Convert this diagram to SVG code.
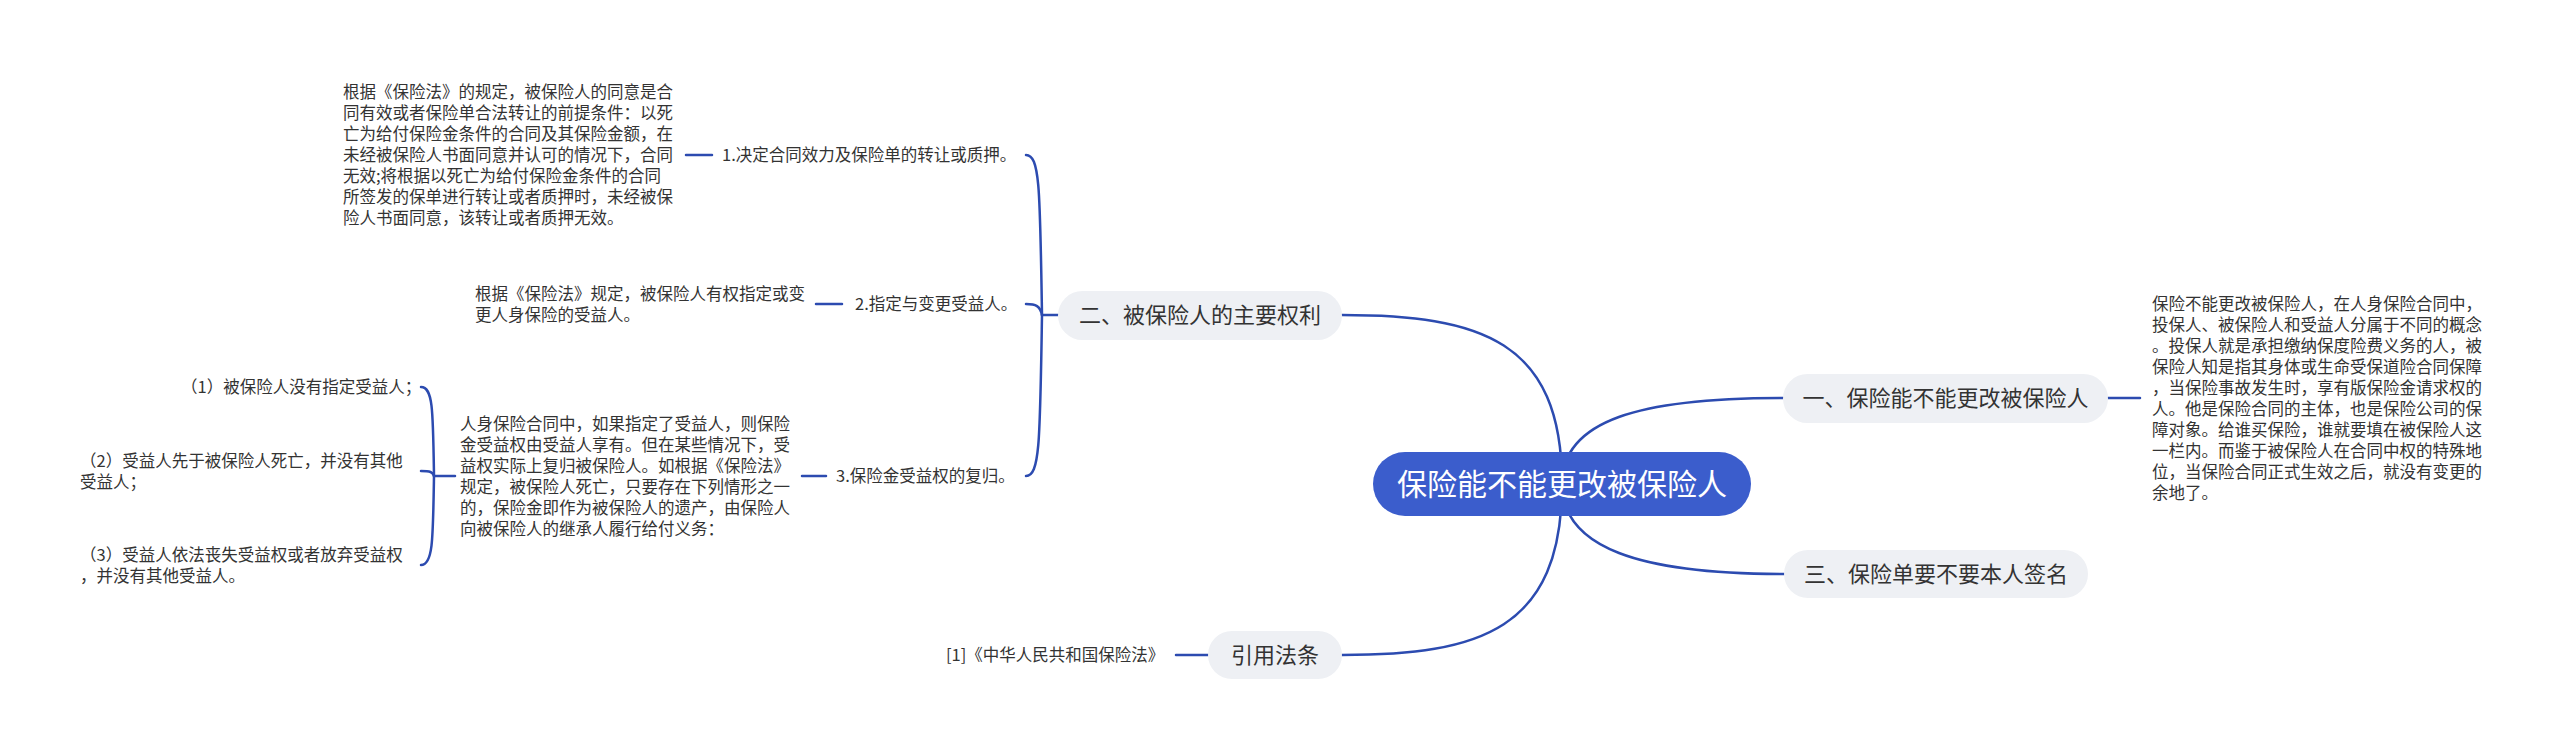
<svg xmlns="http://www.w3.org/2000/svg" width="2560" height="751" viewBox="0 0 2560 751">
<style>
.t{font-family:"Noto Sans CJK SC","Noto Sans",sans-serif;fill:#333333;font-size:16.5px}
.n{fill:#eef0f4}
.nt{font-family:"Noto Sans CJK SC","Noto Sans",sans-serif;fill:#333333;font-size:22px;text-anchor:middle}
.c{fill:none;stroke:#2c4bb0;stroke-width:2.5;stroke-linecap:round}
</style>
<rect width="2560" height="751" fill="#ffffff"/>
<g id="connectors">
<path class="c" d="M1562 484 C1562 340 1480 315 1342 315"/>
<path class="c" d="M1562 484 C1562 420 1640 398 1783 398"/>
<path class="c" d="M1562 484 C1562 548 1640 574 1784 574"/>
<path class="c" d="M1562 484 C1562 630 1480 655 1342 655"/>
<path class="c" d="M2108 398 L2140 398"/>
<path class="c" d="M1208 655 L1176 655"/>
<path class="c" d="M1058 315 L1042 315"/>
<path class="c" d="M1042 315 C1040 190 1040 155 1026 155"/>
<path class="c" d="M1042 315 C1040 306 1036 304 1026 304"/>
<path class="c" d="M1042 315 C1040 440 1040 476 1026 476"/>
<path class="c" d="M712 155 L686 155"/>
<path class="c" d="M842 304 L816 304"/>
<path class="c" d="M826 476 L802 476"/>
<path class="c" d="M455 476 L434 476"/>
<path class="c" d="M434 476 C433 410 433 387 421 387"/>
<path class="c" d="M434 476 C433 472 430 471 421 471"/>
<path class="c" d="M434 476 C433 540 433 565 421 565"/>
</g>
<g id="root">
<rect x="1373" y="452" width="378" height="64" rx="32" fill="#3b5dcc"/>
<text x="1562" y="495" font-family="Noto Sans CJK SC, Noto Sans, sans-serif" font-size="30" fill="#ffffff" text-anchor="middle">保险能不能更改被保险人</text>
</g>
<g id="b1">
<rect class="n" x="1783" y="374" width="325" height="49" rx="24.5"/>
<text class="nt" x="1945.5" y="406">一、保险能不能更改被保险人</text>
</g>
<g id="b1-leaf">
<text class="t" x="2152" y="309.5">
<tspan x="2152">保险不能更改被保险人，在人身保险合同中，</tspan>
<tspan x="2152" dy="21">投保人、被保险人和受益人分属于不同的概念</tspan>
<tspan x="2152" dy="21">。投保人就是承担缴纳保度险费义务的人，被</tspan>
<tspan x="2152" dy="21">保险人知是指其身体或生命受保道险合同保障</tspan>
<tspan x="2152" dy="21">，当保险事故发生时，享有版保险金请求权的</tspan>
<tspan x="2152" dy="21">人。他是保险合同的主体，也是保险公司的保</tspan>
<tspan x="2152" dy="21">障对象。给谁买保险，谁就要填在被保险人这</tspan>
<tspan x="2152" dy="21">一栏内。而鉴于被保险人在合同中权的特殊地</tspan>
<tspan x="2152" dy="21">位，当保险合同正式生效之后，就没有变更的</tspan>
<tspan x="2152" dy="21">余地了。</tspan>
</text>
</g>
<g id="b2">
<rect class="n" x="1058" y="291" width="284" height="49" rx="24.5"/>
<text class="nt" x="1200" y="323">二、被保险人的主要权利</text>
</g>
<g id="b2-1">
<text class="t" x="722" y="161">1.决定合同效力及保险单的转让或质押。</text>
</g>
<g id="b2-1-leaf">
<text class="t" x="343" y="98">
<tspan x="343">根据《保险法》的规定，被保险人的同意是合</tspan>
<tspan x="343" dy="21">同有效或者保险单合法转让的前提条件：以死</tspan>
<tspan x="343" dy="21">亡为给付保险金条件的合同及其保险金额，在</tspan>
<tspan x="343" dy="21">未经被保险人书面同意并认可的情况下，合同</tspan>
<tspan x="343" dy="21">无效;将根据以死亡为给付保险金条件的合同</tspan>
<tspan x="343" dy="21">所签发的保单进行转让或者质押时，未经被保</tspan>
<tspan x="343" dy="21">险人书面同意，该转让或者质押无效。</tspan>
</text>
</g>
<g id="b2-2">
<text class="t" x="855" y="310">2.指定与变更受益人。</text>
</g>
<g id="b2-2-leaf">
<text class="t" x="475" y="299.5">
<tspan x="475">根据《保险法》规定，被保险人有权指定或变</tspan>
<tspan x="475" dy="21">更人身保险的受益人。</tspan>
</text>
</g>
<g id="b2-3">
<text class="t" x="836" y="482">3.保险金受益权的复归。</text>
</g>
<g id="b2-3-leaf">
<text class="t" x="460" y="429.5">
<tspan x="460">人身保险合同中，如果指定了受益人，则保险</tspan>
<tspan x="460" dy="21">金受益权由受益人享有。但在某些情况下，受</tspan>
<tspan x="460" dy="21">益权实际上复归被保险人。如根据《保险法》</tspan>
<tspan x="460" dy="21">规定，被保险人死亡，只要存在下列情形之一</tspan>
<tspan x="460" dy="21">的，保险金即作为被保险人的遗产，由保险人</tspan>
<tspan x="460" dy="21">向被保险人的继承人履行给付义务：</tspan>
</text>
</g>
<g id="item-1">
<text class="t" x="181" y="393">（1）被保险人没有指定受益人；</text>
</g>
<g id="item-2">
<text class="t" x="80" y="467">
<tspan x="80">（2）受益人先于被保险人死亡，并没有其他</tspan>
<tspan x="80" dy="21">受益人；</tspan>
</text>
</g>
<g id="item-3">
<text class="t" x="80" y="561">
<tspan x="80">（3）受益人依法丧失受益权或者放弃受益权</tspan>
<tspan x="80" dy="21">，并没有其他受益人。</tspan>
</text>
</g>
<g id="b3">
<rect class="n" x="1784" y="550" width="304" height="48" rx="24"/>
<text class="nt" x="1936" y="582">三、保险单要不要本人签名</text>
</g>
<g id="b4">
<rect class="n" x="1208" y="631" width="134" height="48" rx="24"/>
<text class="nt" x="1275" y="663">引用法条</text>
</g>
<g id="b4-leaf">
<text class="t" x="946" y="661">[1]《中华人民共和国保险法》</text>
</g>
</svg>
